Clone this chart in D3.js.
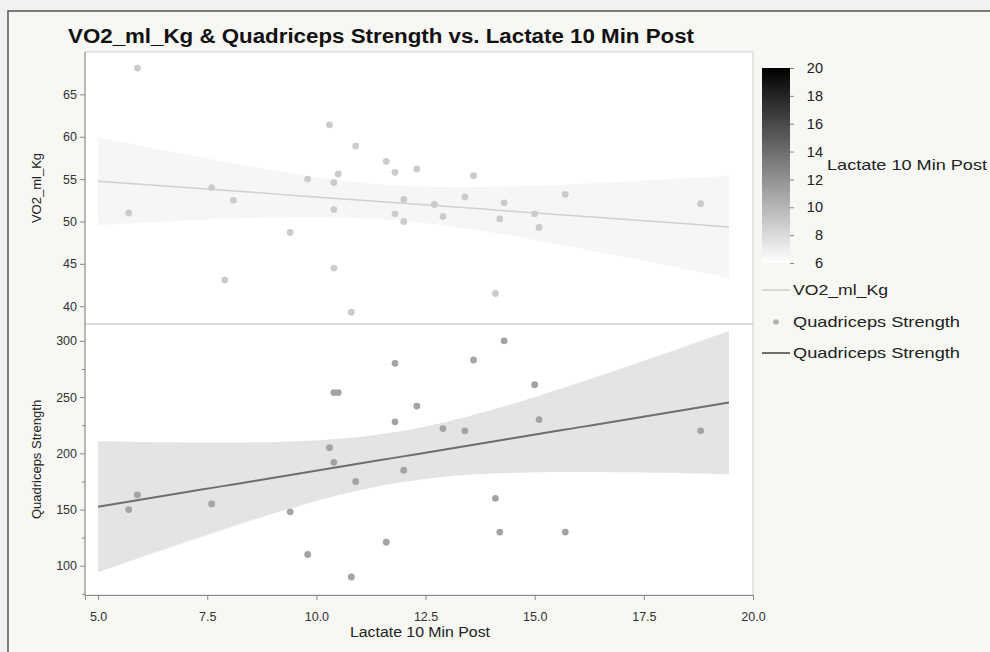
<!DOCTYPE html>
<html>
<head>
<meta charset="utf-8">
<style>
  body { margin: 0; background: #f1f1f1; }
  svg text { font-family: "Liberation Sans", Arial, sans-serif; fill: #222; }
  .tick text { font-size: 12.5px; fill: #333; }
  .axis path, .axis line { stroke: #8a8a8a; }
</style>
</head>
<body>
<svg id="chart" width="990" height="652"></svg>
<script src="https://cdn.jsdelivr.net/npm/d3@7"></script>
<script>
  // values
  var lactate = [5.7, 5.9, 7.6, 7.9, 8.1, 9.4, 9.8, 10.3, 10.4, 10.4, 10.4, 10.5, 10.8, 10.9, 11.6, 11.8,
                 11.8, 12.0, 12.0, 12.3, 12.7, 12.9, 13.4, 13.6, 14.1, 14.2, 14.3, 15.0, 15.1, 15.7, 18.8];
  var vo2     = [51.0, 68.1, 54.0, 43.1, 52.5, 48.7, 55.0, 61.4, 54.6, 51.4, 44.5, 55.6, 39.3, 58.9, 57.1, 55.8,
                 50.9, 52.6, 50.0, 56.2, 52.0, 50.6, 52.9, 55.4, 41.5, 50.3, 52.2, 50.9, 49.3, 53.2, 52.1];
  var quad    = [150, 163, 155, null, null, 148, 110, 205, 254, 192, null, 254, 90, 175, 121, 280,
                 228, 185, null, 242, null, 222, 220, 283, 160, 130, 300, 261, 230, 130, 220];
  var xTicks    = [5, 7.5, 10, 12.5, 15, 17.5, 20];
  var vo2Ticks  = [40, 45, 50, 55, 60, 65];
  var quadTicks = [100, 150, 200, 250, 300];
  var quadMinor = [75, 125, 175, 225, 275];
  var colorTicks = [6, 8, 10, 12, 14, 16, 18, 20];
  var fitRange  = [5.0, 19.45];
  var legendItems = ['VO2_ml_Kg', 'Quadriceps Strength', 'Quadriceps Strength'];
  var legendWidths = [95, 167, 167];

(function () {
  var svg = d3.select('#chart');
  var left = 85, right = 753, top0 = 52, mid = 324, bottom = 595;

  var x = d3.scaleLinear().domain([4.7, 20]).range([left, right]);
  var yTop = d3.scaleLinear().domain([37.9, 70]).range([mid, top0]);
  var yBot = d3.scaleLinear().domain([74, 315]).range([bottom, mid]);

  // frame
  svg.append('rect')
    .attr('x', 8).attr('y', 11).attr('width', 1000).attr('height', 660)
    .attr('fill', '#f7f7f3').attr('stroke', '#555').attr('stroke-width', 1.5);

  svg.append('text')
    .attr('x', 68).attr('y', 43)
    .attr('textLength', 626).attr('lengthAdjust', 'spacingAndGlyphs')
    .style('font-size', '20px').style('font-weight', 'bold').style('fill', '#111')
    .text('VO2_ml_Kg & Quadriceps Strength vs. Lactate 10 Min Post');

  // panel backgrounds
  svg.append('rect').attr('x', left).attr('y', top0).attr('width', right - left).attr('height', bottom - top0)
    .attr('fill', '#fff').attr('stroke', '#cfcfcf');

  // linear fit with 95% confidence band on the mean
  function fit(xs, ys) {
    var pts = xs.map(function (v, i) { return [v, ys[i]]; })
                .filter(function (p) { return p[1] != null; });
    var n = pts.length,
        mx = d3.mean(pts, function (p) { return p[0]; }),
        my = d3.mean(pts, function (p) { return p[1]; }),
        sxx = d3.sum(pts, function (p) { return (p[0] - mx) * (p[0] - mx); }),
        sxy = d3.sum(pts, function (p) { return (p[0] - mx) * (p[1] - my); }),
        b = sxy / sxx, a = my - b * mx,
        sse = d3.sum(pts, function (p) { var r = p[1] - a - b * p[0]; return r * r; }),
        s = Math.sqrt(sse / (n - 2)),
        t = n > 28 ? 2.045 : 2.064;
    return d3.range(0, 61).map(function (i) {
      var xv = fitRange[0] + (fitRange[1] - fitRange[0]) * i / 60,
          yh = a + b * xv,
          h = t * s * Math.sqrt(1 / n + (xv - mx) * (xv - mx) / sxx);
      return { x: xv, y: yh, lo: yh - h, hi: yh + h };
    });
  }

  function panel(ys, yScale, bandFill, lineColor, lineWidth, dotColor) {
    var g = svg.append('g');
    var f = fit(lactate, ys);
    g.append('path').datum(f)
      .attr('fill', bandFill)
      .attr('d', d3.area().x(function (d) { return x(d.x); })
        .y0(function (d) { return yScale(d.lo); }).y1(function (d) { return yScale(d.hi); }));
    g.append('path').datum(f)
      .attr('fill', 'none').attr('stroke', lineColor).attr('stroke-width', lineWidth)
      .attr('d', d3.line().x(function (d) { return x(d.x); }).y(function (d) { return yScale(d.y); }));
    g.selectAll('circle')
      .data(lactate.map(function (v, i) { return [v, ys[i]]; }).filter(function (p) { return p[1] != null; }))
      .enter().append('circle')
      .attr('cx', function (p) { return x(p[0]); })
      .attr('cy', function (p) { return yScale(p[1]); })
      .attr('r', 3.4)
      .attr('fill', dotColor);
  }

  panel(vo2, yTop, '#f5f6f6', '#d0d0d0', 1.5, '#cbcbcb');
  panel(quad, yBot, '#e3e4e5', '#6e6e6e', 2, '#a3a3a3');

  svg.append('line').attr('x1', left).attr('x2', right).attr('y1', mid).attr('y2', mid)
    .attr('stroke', '#d0d0d0').attr('stroke-width', 1.5);

  // axes
  svg.append('g').attr('class', 'axis')
    .attr('transform', 'translate(0,' + bottom + ')')
    .call(d3.axisBottom(x).tickValues(xTicks).tickFormat(d3.format('.1f')).tickSize(5).tickPadding(12));

  svg.append('g').attr('class', 'axis')
    .attr('transform', 'translate(' + left + ',0)')
    .call(d3.axisLeft(yTop).tickValues(vo2Ticks).tickSize(5).tickPadding(3))
    .call(function (g) { g.select('.domain').remove(); });

  svg.append('g').attr('class', 'axis')
    .attr('transform', 'translate(' + left + ',0)')
    .call(d3.axisLeft(yBot).tickValues(quadTicks).tickSize(5).tickPadding(3))
    .call(function (g) { g.select('.domain').remove(); });

  svg.append('g').attr('class', 'axis')
    .attr('transform', 'translate(' + left + ',0)')
    .call(d3.axisLeft(yBot).tickValues(quadMinor).tickSize(3).tickFormat(''))
    .call(function (g) { g.select('.domain').remove(); });

  svg.append('line').attr('x1', left).attr('x2', left).attr('y1', top0).attr('y2', bottom + 1)
    .attr('stroke', '#8a8a8a');

  svg.append('text')
    .attr('x', 420).attr('y', 637)
    .attr('text-anchor', 'middle').style('font-size', '14px')
    .attr('textLength', 140).attr('lengthAdjust', 'spacingAndGlyphs')
    .text('Lactate 10 Min Post');

  svg.append('text')
    .attr('transform', 'translate(41,' + (top0 + mid) / 2 + ') rotate(-90)')
    .attr('text-anchor', 'middle').style('font-size', '13px')
    .text('VO2_ml_Kg');

  svg.append('text')
    .attr('transform', 'translate(41,' + (mid + bottom) / 2 + ') rotate(-90)')
    .attr('text-anchor', 'middle').style('font-size', '13px')
    .text('Quadriceps Strength');

  // colour bar legend
  var cScale = d3.scaleLinear().domain([6, 20]).range([263, 68]);
  var grad = svg.append('defs').append('linearGradient')
    .attr('id', 'lg').attr('x1', 0).attr('x2', 0).attr('y1', 1).attr('y2', 0);
  grad.append('stop').attr('offset', '0%').attr('stop-color', '#ffffff');
  grad.append('stop').attr('offset', '100%').attr('stop-color', '#000000');
  svg.append('rect')
    .attr('x', 762).attr('y', cScale(20)).attr('width', 28).attr('height', cScale(6) - cScale(20))
    .attr('fill', 'url(#lg)');
  svg.append('g').attr('class', 'axis')
    .attr('transform', 'translate(790,0)')
    .call(d3.axisRight(cScale).tickValues(colorTicks).tickSize(4).tickPadding(3))
    .call(function (g) {
      g.select('.domain').remove();
      g.selectAll('.tick line').attr('stroke', '#aaa');
      g.selectAll('.tick text').attr('x', 33).attr('text-anchor', 'end').style('font-size', '14.5px').style('fill', '#222');
    });
  svg.append('text').attr('x', 827).attr('y', 170).style('font-size', '15px')
    .attr('textLength', 160).attr('lengthAdjust', 'spacingAndGlyphs')
    .text('Lactate 10 Min Post');

  // series legend
  var leg = svg.append('g');
  leg.append('line').attr('x1', 762).attr('x2', 790).attr('y1', 290).attr('y2', 290)
    .attr('stroke', '#cfcfcf').attr('stroke-width', 1.5);
  leg.append('circle').attr('cx', 776).attr('cy', 322).attr('r', 2.8).attr('fill', '#b3b3b3');
  leg.append('line').attr('x1', 762).attr('x2', 790).attr('y1', 353).attr('y2', 353)
    .attr('stroke', '#6e6e6e').attr('stroke-width', 2);
  leg.selectAll('text').data(legendItems).enter().append('text')
    .attr('x', 793).attr('y', function (d, i) { return 295 + i * 31.5; })
    .attr('textLength', function (d, i) { return legendWidths[i]; })
    .attr('lengthAdjust', 'spacingAndGlyphs')
    .style('font-size', '15px')
    .text(function (d) { return d; });
})();
</script>
</body>
</html>
